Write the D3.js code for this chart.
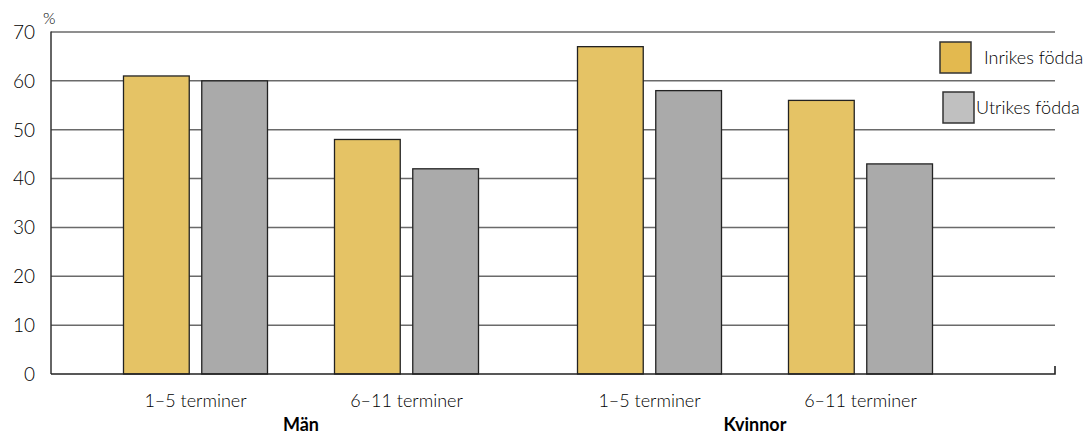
<!DOCTYPE html>
<html>
<head>
<meta charset="utf-8">
<script src="https://cdn.jsdelivr.net/npm/d3@7"></script>
<style>
  body { margin: 0; background: #fff; }
  svg text { font-family: Lato, "Open Sans", sans-serif; font-weight: 300; fill: #000; }
</style>
</head>
<body>
<div id="chart"></div>
<script>
// data
var groups = ['Män', 'Kvinnor']
var periods = ['1–5 terminer', '6–11 terminer']
var series = ['Inrikes födda', 'Utrikes födda']
var inrikes = [61, 48, 67, 56]   // Män 1-5, Män 6-11, Kvinnor 1-5, Kvinnor 6-11
var utrikes = [60, 42, 58, 43]
var yTicks = [0, 10, 20, 30, 40, 50, 60, 70]

var rows = []
groups.forEach(function(g, gi) {
  periods.forEach(function(p, pi) {
    var i = gi * periods.length + pi
    rows.push({group: g, period: p, values: [inrikes[i], utrikes[i]]})
  })
})

var w = 1092, h = 435
var plotLeft = 51, plotRight = 1055, plotTop = 32, plotBottom = 374

var svg = d3.select('#chart').append('svg')
    .attr('width', w)
    .attr('height', h)

var y = d3.scaleLinear().domain([0, 70]).range([plotBottom, plotTop])

var x0 = d3.scaleBand().domain(groups).range([74, 982]).padding(0)
var x1 = d3.scaleBand().domain(periods).range([16, x0.bandwidth() - 16]).padding(0)
var x2 = d3.scaleBand().domain(series).range([-72, 72]).paddingInner(0.16).paddingOuter(0)

var barFill = {'Inrikes födda': '#e5c365', 'Utrikes födda': '#aaaaaa'}
var swatchFill = {'Inrikes födda': '#e3b94f', 'Utrikes födda': '#c0c0c0'}

function center(d) { return x0(d.group) + x1(d.period) + x1.bandwidth() / 2 }

// gridlines
svg.append('g')
  .selectAll('line')
  .data(yTicks.slice(1))
  .enter().append('line')
    .attr('x1', plotLeft).attr('x2', plotRight)
    .attr('y1', function(d) { return y(d) })
    .attr('y2', function(d) { return y(d) })
    .attr('stroke', '#6a6a6a')
    .attr('stroke-width', 1.5)

// y axis labels
svg.append('g')
  .selectAll('text')
  .data(yTicks)
  .enter().append('text')
    .attr('x', 35)
    .attr('y', function(d) { return y(d) })
    .attr('dy', '0.36em')
    .attr('text-anchor', 'end')
    .style('font-size', '19px')
    .text(function(d) { return d })

svg.append('text')
    .attr('x', 43).attr('y', 24)
    .style('font-size', '16px')
    .text('%')

// bars
var cat = svg.selectAll('.cat')
  .data(rows)
  .enter().append('g')
    .attr('class', 'cat')
    .attr('transform', function(d) { return 'translate(' + center(d) + ',0)' })

cat.selectAll('rect')
  .data(function(d) { return series.map(function(s, i) { return {key: s, value: d.values[i]} }) })
  .enter().append('rect')
    .attr('x', function(d) { return x2(d.key) })
    .attr('width', x2.bandwidth())
    .attr('y', function(d) { return y(d.value) })
    .attr('height', function(d) { return y(0) - y(d.value) })
    .attr('fill', function(d) { return barFill[d.key] })
    .attr('stroke', '#222')
    .attr('stroke-width', 1.3)

cat.append('text')
    .attr('x', 0)
    .attr('y', 407)
    .attr('text-anchor', 'middle')
    .style('font-size', '18px')
    .text(function(d) { return d.period })

// axis lines
svg.append('line')
    .attr('x1', plotLeft).attr('x2', plotLeft)
    .attr('y1', plotTop - 0.5).attr('y2', plotBottom)
    .attr('stroke', '#333').attr('stroke-width', 1.5)
svg.append('path')
    .attr('d', 'M' + plotLeft + ',' + plotBottom + 'H' + plotRight + 'V' + (plotBottom - 8))
    .attr('fill', 'none')
    .attr('stroke', '#222').attr('stroke-width', 1.6)

// group labels
svg.append('g')
  .selectAll('text')
  .data(groups)
  .enter().append('text')
    .attr('x', function(d) { return x0(d) + x0.bandwidth() / 2 })
    .attr('y', 431)
    .attr('text-anchor', 'middle')
    .style('font-size', '18px')
    .style('font-weight', 700)
    .text(function(d) { return d })

// legend
var legendPos = [{x: 940, y: 42, tx: 984, ty: 64}, {x: 943, y: 92, tx: 976, ty: 114}]
var legend = svg.selectAll('.legend')
  .data(series)
  .enter().append('g')
    .attr('class', 'legend')

legend.append('rect')
    .attr('x', function(d, i) { return legendPos[i].x })
    .attr('y', function(d, i) { return legendPos[i].y })
    .attr('width', 31).attr('height', 31)
    .attr('fill', function(d) { return swatchFill[d] })
    .attr('stroke', '#333')
    .attr('stroke-width', 1.5)

legend.append('text')
    .attr('x', function(d, i) { return legendPos[i].tx })
    .attr('y', function(d, i) { return legendPos[i].ty })
    .style('font-size', '18px')
    .text(function(d) { return d })
</script>
</body>
</html>
